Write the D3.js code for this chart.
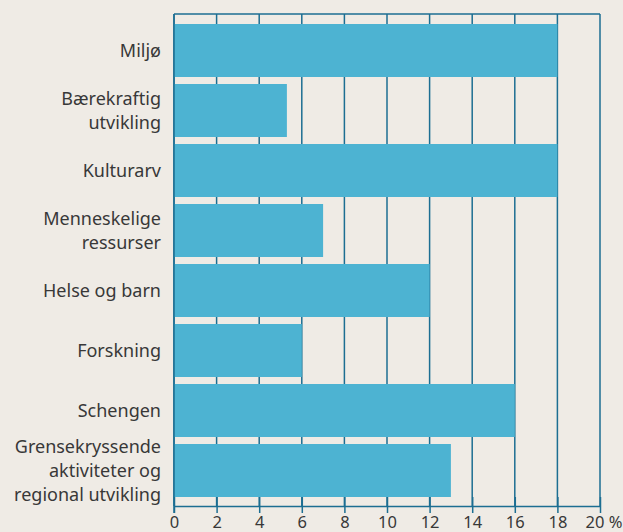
<!DOCTYPE html>
<html>
<head>
<meta charset="utf-8">
<script src="https://cdn.jsdelivr.net/npm/d3@7"></script>
<style>
  body { margin: 0; background: #efebe5; }
  svg { display: block; font-family: "Noto Sans", "DejaVu Sans", sans-serif; }
</style>
</head>
<body>
<div id="chart"></div>
<script>
const categories = [
  ['Miljø'],
  ['Bærekraftig', 'utvikling'],
  ['Kulturarv'],
  ['Menneskelige', 'ressurser'],
  ['Helse og barn'],
  ['Forskning'],
  ['Schengen'],
  ['Grensekryssende', 'aktiviteter og', 'regional utvikling']
];
const values = [18, 5.3, 18, 7, 12, 6, 16, 13];
const xTicks = [0, 2, 4, 6, 8, 10, 12, 14, 16, 18, 20];

const W = 623, H = 532;
const plotLeft = 174, plotRight = 600, plotTop = 14, axisY = 506;
const lineCol = '#1c6e92', barCol = '#4db3d2', textCol = '#383838';

const svg = d3.select('#chart').append('svg').attr('width', W).attr('height', H);
svg.append('rect').attr('width', W).attr('height', H).attr('fill', '#efebe5');

const x = d3.scaleLinear().domain([0, 20]).range([plotLeft, plotRight]);
const y = d3.scaleBand().domain(d3.range(categories.length))
  .range([20.5, 500.5]).paddingInner(7 / 60).paddingOuter(7 / 120);

// grid
svg.append('g').selectAll('line').data(xTicks).enter().append('line')
  .attr('x1', d => x(d)).attr('x2', d => x(d))
  .attr('y1', plotTop).attr('y2', axisY)
  .attr('stroke', lineCol).attr('stroke-width', 1.5);
svg.append('line').attr('x1', plotLeft).attr('x2', plotRight).attr('y1', plotTop).attr('y2', plotTop)
  .attr('stroke', lineCol).attr('stroke-width', 1.5);

// bars
svg.append('g').selectAll('rect').data(values).enter().append('rect')
  .attr('x', x(0)).attr('y', (d, i) => y(i))
  .attr('width', d => x(d) - x(0)).attr('height', y.bandwidth())
  .attr('fill', barCol);

// x axis
const ax = svg.append('g').attr('transform', `translate(0,${axisY})`)
  .call(d3.axisBottom(x).tickValues(xTicks).tickSizeInner(7).tickSizeOuter(0)
    .tickFormat(d => d === 20 ? '20 %' : d));
ax.select('.domain').attr('stroke', lineCol).attr('stroke-width', 1.5);
ax.selectAll('.tick line').attr('stroke', lineCol).attr('stroke-width', 1.5).attr('y1', -9);
ax.selectAll('.tick text').attr('fill', textCol).attr('font-size', 16.5)
  .attr('font-family', '"Noto Sans", sans-serif').attr('y', 0).attr('dy', null)
  .attr('transform', 'translate(0,22)');
ax.selectAll('.tick text').filter(d => d === 20)
  .attr('text-anchor', 'end').attr('x', 22);
svg.append('line').attr('x1', plotLeft).attr('x2', plotLeft).attr('y1', plotTop).attr('y2', axisY + 7)
  .attr('stroke', lineCol).attr('stroke-width', 1.5);

// category labels
const lab = svg.append('g').selectAll('text').data(categories).enter().append('text')
  .attr('text-anchor', 'end').attr('fill', textCol).attr('font-size', 18)
  .attr('y', (d, i) => y(i) + y.bandwidth() / 2);
lab.each(function (lines) {
  const t = d3.select(this);
  const lh = 24;
  lines.forEach((s, k) => {
    t.append('tspan').attr('x', 161)
      .attr('dy', k === 0 ? (-(lines.length - 1) * lh / 2 + 6.5) : lh)
      .text(s);
  });
});
</script>
</body>
</html>
